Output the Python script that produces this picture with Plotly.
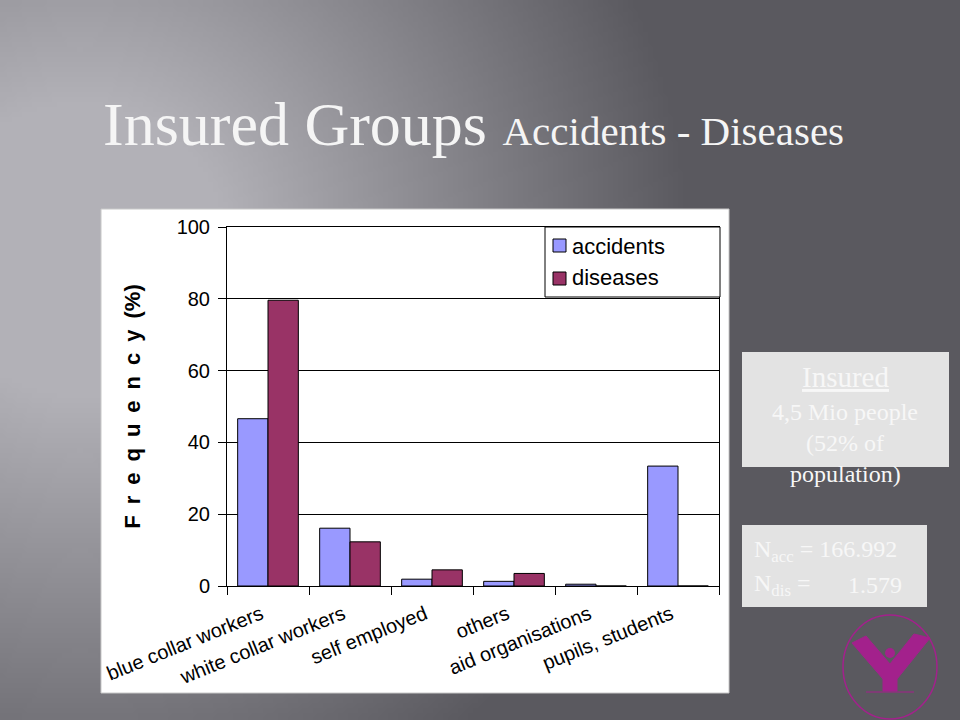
import base64
import struct
import zlib

import numpy as np
import plotly.graph_objects as go

# ---------------- data ----------------
categories = ["blue collar workers", "white collar workers", "self employed",
              "others", "aid organisations", "pupils, students"]
accidents = [46.6, 16.1, 1.9, 1.3, 0.5, 33.4]
diseases = [79.6, 12.3, 4.5, 3.5, 0, 0]
y_ticks = [0, 20, 40, 60, 80, 100]

title_main = "Insured Groups"
title_sub = "Accidents - Diseases"
insured_lines = ["Insured", "4,5 Mio people", "(52% of", "population)"]
n_acc = "166.992"
n_dis = "1.579"

# ---------------- geometry helpers ----------------
W, H = 960, 720
PL, PR, PT, PB = 227, 719, 227, 586   # plot area in pixels


def X(px):
    return (px - PL) / (PR - PL)


def Y(py):
    return (PB - py) / (PB - PT)


# ---------------- background gradient as PNG ----------------
def make_png(arr):
    h, w, _ = arr.shape
    raw = b"".join(b"\x00" + arr[r].tobytes() for r in range(h))

    def chunk(tag, data):
        c = struct.pack(">I", len(data)) + tag + data
        return c + struct.pack(">I", zlib.crc32(tag + data) & 0xFFFFFFFF)

    png = b"\x89PNG\r\n\x1a\n"
    png += chunk(b"IHDR", struct.pack(">IIBBBBB", w, h, 8, 2, 0, 0, 0))
    png += chunk(b"IDAT", zlib.compress(raw, 9))
    png += chunk(b"IEND", b"")
    return png


S = 5
gw, gh = W // S, H // S
xs = (np.arange(gw) + 0.5) * S
ys = (np.arange(gh) + 0.5) * S
XX, YY = np.meshgrid(xs, ys)
d = np.sqrt((XX - 80) ** 2 + (YY - 250) ** 2)
L = np.clip(178 - 0.19 * np.clip(d - 150, 0, None), 90, 178)
img = np.stack([L, L - 1, L + 5], axis=-1).clip(0, 255).astype(np.uint8)
bg_uri = "data:image/png;base64," + base64.b64encode(make_png(img)).decode()

# ---------------- figure ----------------
fig = go.Figure()
fig.add_trace(go.Bar(x=categories, y=accidents, name="accidents",
                     marker=dict(color="#9999ff", line=dict(color="#000000", width=1)),
                     showlegend=False))
fig.add_trace(go.Bar(x=categories, y=diseases, name="diseases",
                     marker=dict(color="#993366", line=dict(color="#000000", width=1)),
                     showlegend=False))

sans = "Liberation Sans, Arial, sans-serif"
serif = "Liberation Serif, Times New Roman, serif"

fig.update_layout(
    width=W, height=H,
    margin=dict(l=PL, r=W - PR, t=PT, b=H - PB, pad=0),
    paper_bgcolor="#707075",
    plot_bgcolor="#ffffff",
    barmode="group", bargap=0.26, bargroupgap=0,
    font=dict(family=sans, color="#000000"),
    xaxis=dict(type="category", showline=True, linecolor="#000000", linewidth=1,
               mirror=True, ticks="outside", tickson="boundaries", ticklen=8,
               tickcolor="#000000", showgrid=False, tickangle=-22,
               ticklabelstandoff=8, ticklabelshift=-7,
               tickfont=dict(family=sans, size=20, color="#000000")),
    yaxis=dict(range=[0, 100], tickvals=y_ticks, showline=True, linecolor="#000000",
               linewidth=1, mirror=True, ticks="outside", ticklen=8,
               tickcolor="#000000", showgrid=True, gridcolor="#000000", gridwidth=1,
               zeroline=False, ticklabelstandoff=4,
               tickfont=dict(family=sans, size=20, color="#000000"),
               title=dict(text="F\u2002r\u2002e\u2002q\u2002u\u2002e\u2002n\u2002c\u2002y\u2002(%)",
                          standoff=29,
                          font=dict(family=sans, size=22, color="#000000", weight="bold"))),
    images=[dict(source=bg_uri, xref="paper", yref="paper", x=X(0), y=Y(0),
                 sizex=W / (PR - PL), sizey=H / (PB - PT), sizing="stretch",
                 xanchor="left", yanchor="top", layer="below")],
)

shapes = []
# white chart box
shapes.append(dict(type="rect", xref="paper", yref="paper", layer="below",
                   x0=X(101), x1=X(729), y0=Y(693), y1=Y(209),
                   fillcolor="#ffffff", line=dict(color="#c8c8c8", width=1)))
# legend box
shapes.append(dict(type="rect", xref="paper", yref="paper",
                   x0=X(545), x1=X(720), y0=Y(297), y1=Y(227),
                   fillcolor="#ffffff", line=dict(color="#000000", width=1)))
shapes.append(dict(type="rect", xref="paper", yref="paper",
                   x0=X(553), x1=X(566), y0=Y(252), y1=Y(239),
                   fillcolor="#9999ff", line=dict(color="#000000", width=1)))
shapes.append(dict(type="rect", xref="paper", yref="paper",
                   x0=X(553), x1=X(566), y0=Y(285), y1=Y(272),
                   fillcolor="#993366", line=dict(color="#000000", width=1)))
# info boxes
shapes.append(dict(type="rect", xref="paper", yref="paper",
                   x0=X(742), x1=X(949), y0=Y(467), y1=Y(352),
                   fillcolor="#e3e3e3", line=dict(width=0)))
shapes.append(dict(type="rect", xref="paper", yref="paper",
                   x0=X(742), x1=X(927), y0=Y(607), y1=Y(525),
                   fillcolor="#e3e3e3", line=dict(width=0)))
# logo
mag = "#a3218c"
shapes.append(dict(type="circle", xref="paper", yref="paper",
                   x0=X(843), x1=X(937), y0=Y(719), y1=Y(615),
                   line=dict(color=mag, width=1.5)))
shapes.append(dict(type="circle", xref="paper", yref="paper",
                   x0=X(885), x1=X(895), y0=Y(658), y1=Y(648),
                   fillcolor=mag, line=dict(width=0)))
body = [(852, 643), (866, 636), (890, 664), (914, 634), (930, 638),
        (897, 679), (897, 691), (883, 691), (883, 679)]
path = "M" + " L".join(f"{X(a):.5f},{Y(b):.5f}" for a, b in body) + " Z"
shapes.append(dict(type="path", xref="paper", yref="paper", path=path,
                   fillcolor=mag, line=dict(color=mag, width=1)))
shapes.append(dict(type="line", xref="paper", yref="paper",
                   x0=X(866), x1=X(914), y0=Y(692), y1=Y(692),
                   line=dict(color=mag, width=1)))
fig.update_layout(shapes=shapes)

ann = []
ann.append(dict(xref="paper", yref="paper", x=X(101), y=Y(124), xanchor="left",
                yanchor="middle", showarrow=False,
                text=f"{title_main} <span style='font-size:41px'>{title_sub}</span>",
                font=dict(family=serif, size=62, color="#f5f5f5")))
ann.append(dict(xref="paper", yref="paper", x=X(570), y=Y(246), xanchor="left",
                yanchor="middle", showarrow=False, text="accidents",
                font=dict(family=sans, size=22, color="#000000")))
ann.append(dict(xref="paper", yref="paper", x=X(570), y=Y(277), xanchor="left",
                yanchor="middle", showarrow=False, text="diseases",
                font=dict(family=sans, size=22, color="#000000")))
centers = [377, 412, 443, 474]
sizes = [29, 24, 24, 24]
for i, (t, cy, sz) in enumerate(zip(insured_lines, centers, sizes)):
    txt = f"<u>{t}</u>" if i == 0 else t
    ann.append(dict(xref="paper", yref="paper", x=X(845), y=Y(cy), xanchor="center",
                    yanchor="middle", showarrow=False, text=txt,
                    font=dict(family=serif, size=sz, color="#f7f7f7")))
ann.append(dict(xref="paper", yref="paper", x=X(752), y=Y(551), xanchor="left",
                yanchor="middle", showarrow=False,
                text=f"N<sub>acc</sub> = {n_acc}",
                font=dict(family=serif, size=24, color="#f7f7f7")))
ann.append(dict(xref="paper", yref="paper", x=X(752), y=Y(585), xanchor="left",
                yanchor="middle", showarrow=False,
                text="N<sub>dis</sub> =",
                font=dict(family=serif, size=24, color="#f7f7f7")))
ann.append(dict(xref="paper", yref="paper", x=X(904), y=Y(585), xanchor="right",
                yanchor="middle", showarrow=False, text=n_dis,
                font=dict(family=serif, size=24, color="#f7f7f7")))
fig.update_layout(annotations=ann)

fig.write_html("out.html",
               config={"displayModeBar": False},
               post_script="document.body.style.margin='0';"
                           "document.body.style.overflow='hidden';")
